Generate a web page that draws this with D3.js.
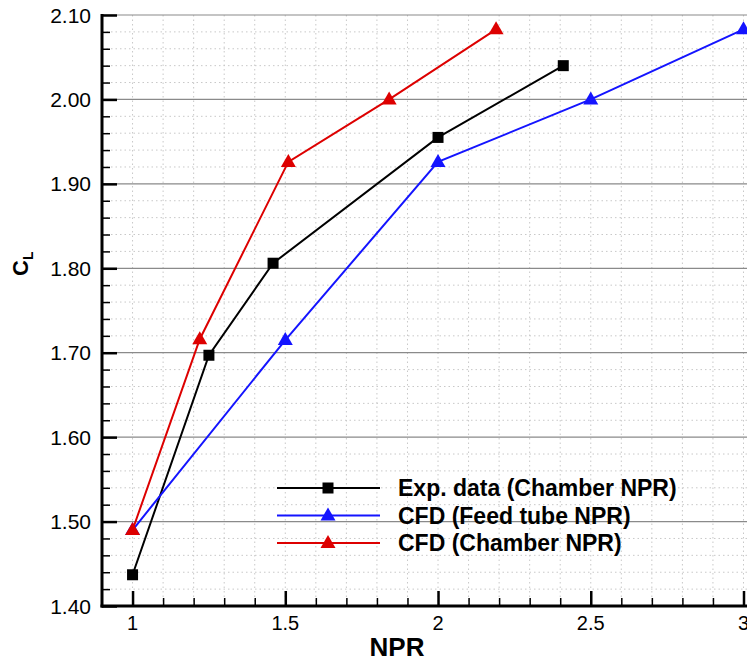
<!DOCTYPE html>
<html lang="en">
<head>
    <meta charset="UTF-8">
    <title>CL vs NPR</title>
    <script src="https://d3js.org/d3.v7.min.js" type="text/JavaScript"></script>
    <style>
        body { margin: 0; background: #fff; }
        text { font-family: "Liberation Sans", Arial, Helvetica, sans-serif; }
    </style>
</head>

<body>
<svg height="664" id="chart" width="747"></svg>
<script>
    // 数据
    var expNPR = [1.0, 1.25, 1.46, 2.0, 2.41];
    var expCL = [1.437, 1.697, 1.806, 1.955, 2.040];
    var feedNPR = [1.0, 1.5, 2.0, 2.5, 3.0];
    var feedCL = [1.490, 1.715, 1.926, 2.000, 2.083];
    var chamberNPR = [1.0, 1.22, 1.51, 1.84, 2.19];
    var chamberCL = [1.490, 1.716, 1.926, 2.000, 2.083];
    var xTicks = [1, 1.5, 2, 2.5, 3];
    var yTicks = [1.40, 1.50, 1.60, 1.70, 1.80, 1.90, 2.00, 2.10];
    var legendNames = ["Exp. data (Chamber NPR)", "CFD (Feed tube NPR)", "CFD (Chamber NPR)"];

    var plotLeft = 102, plotRight = 743.5, plotTop = 15, plotBottom = 606;

    var series = [
        {name: legendNames[0], x: expNPR, y: expCL, color: "#000000", marker: "square"},
        {name: legendNames[1], x: feedNPR, y: feedCL, color: "#1414ff", marker: "triangle"},
        {name: legendNames[2], x: chamberNPR, y: chamberCL, color: "#dd0000", marker: "triangle"}
    ];

    var svg = d3.select('#chart');
    var x = d3.scaleLinear().domain([0.9, 3]).range([plotLeft, plotRight]);
    var y = d3.scaleLinear().domain([1.4, 2.1]).range([plotBottom, plotTop]);

    var xMinor = d3.range(10, 31).map(d => d / 10);
    var yMinor = d3.range(70, 106).map(d => d / 50);

    // 网格线 (点线)
    var grid = svg.append('g');
    grid.selectAll('.vgrid').data(xMinor).enter().append('line')
        .attr('x1', d => x(d)).attr('x2', d => x(d))
        .attr('y1', plotTop).attr('y2', plotBottom)
        .attr('stroke', '#c8c8c8').attr('stroke-width', 1).attr('stroke-dasharray', '1.5,3');
    grid.selectAll('.hgrid').data(yMinor.filter(d => Math.round(d * 50) % 5 !== 0)).enter().append('line')
        .attr('x1', plotLeft).attr('x2', 760)
        .attr('y1', d => y(d)).attr('y2', d => y(d))
        .attr('stroke', '#c8c8c8').attr('stroke-width', 1).attr('stroke-dasharray', '1.5,3');
    grid.selectAll('.major').data(yTicks.slice(1)).enter().append('line')
        .attr('x1', plotLeft).attr('x2', 760)
        .attr('y1', d => y(d)).attr('y2', d => y(d))
        .attr('stroke', '#8a8a8a').attr('stroke-width', 1.2);

    // 坐标轴
    var yAxis = d3.axisRight(y).tickValues(yMinor).tickSize(8).tickFormat('');
    var gy = svg.append('g').attr('transform', 'translate(' + plotLeft + ',0)').call(yAxis);
    gy.selectAll('.tick line').attr('stroke-width', 1.5)
        .filter(d => Math.round(d * 50) % 5 === 0).attr('x2', 15).attr('stroke-width', 2.5);
    gy.select('.domain').remove();

    var xAxis = d3.axisTop(x).tickValues(xMinor).tickSize(8).tickFormat('');
    var gx = svg.append('g').attr('transform', 'translate(0,' + plotBottom + ')').call(xAxis);
    gx.selectAll('.tick line').attr('stroke-width', 1.5)
        .filter(d => Math.round(d * 10) % 5 === 0).attr('y2', -15).attr('stroke-width', 2.5);
    gx.select('.domain').remove();

    svg.append('line').attr('x1', plotLeft).attr('x2', plotLeft).attr('y1', plotTop - 1).attr('y2', plotBottom + 1.5)
        .attr('stroke', '#000').attr('stroke-width', 3);
    svg.append('line').attr('x1', plotLeft - 1.5).attr('x2', 760).attr('y1', plotBottom).attr('y2', plotBottom)
        .attr('stroke', '#000').attr('stroke-width', 3);

    // 刻度标签
    svg.selectAll('.ylab').data(yTicks).enter().append('text')
        .attr('x', 91).attr('y', d => y(d) + 7.5)
        .attr('text-anchor', 'end').attr('font-size', 21)
        .text(d => d.toFixed(2));
    svg.selectAll('.xlab').data(xTicks).enter().append('text')
        .attr('x', d => x(d)).attr('y', 630)
        .attr('text-anchor', 'middle').attr('font-size', 20)
        .text(d => d3.format('')(d));

    // 轴标题
    svg.append('text').attr('x', 397).attr('y', 656)
        .attr('text-anchor', 'middle').attr('font-size', 26).attr('font-weight', 'bold')
        .text('NPR');
    var ct = svg.append('text').attr('transform', 'translate(28,276) rotate(-90)')
        .attr('font-size', 22).attr('font-weight', 'bold');
    ct.append('tspan').text('C');
    ct.append('tspan').attr('font-size', 14).attr('dy', 5).text('L');

    var line = d3.line().x(d => x(d[0])).y(d => y(d[1]));

    function drawMarker(g, type, cx, cy, color) {
        if (type === 'square') {
            g.append('rect').attr('x', cx - 5.5).attr('y', cy - 5.5)
                .attr('width', 11).attr('height', 11).attr('fill', color);
        } else {
            g.append('path')
                .attr('d', 'M' + cx + ',' + (cy - 8) + ' L' + (cx + 7.5) + ',' + (cy + 5) + ' L' + (cx - 7.5) + ',' + (cy + 5) + ' Z')
                .attr('fill', color);
        }
    }

    // 数据曲线
    series.forEach(function (s) {
        var pts = s.x.map((v, i) => [v, s.y[i]]);
        var g = svg.append('g');
        g.append('path').attr('d', line(pts))
            .attr('fill', 'none').attr('stroke', s.color).attr('stroke-width', 2);
        pts.forEach(p => drawMarker(g, s.marker, x(p[0]), y(p[1]), s.color));
    });

    // 图例
    var legend = svg.append('g');
    series.forEach(function (s, i) {
        var ly = 488 + i * 27.5;
        legend.append('line').attr('x1', 277).attr('x2', 380).attr('y1', ly).attr('y2', ly)
            .attr('stroke', s.color).attr('stroke-width', 2);
        drawMarker(legend, s.marker, 328, ly, s.color);
        legend.append('text').attr('x', 398).attr('y', ly + 8)
            .attr('font-size', 23).attr('font-weight', 'bold').text(s.name);
    });
</script>
</body>
</html>
